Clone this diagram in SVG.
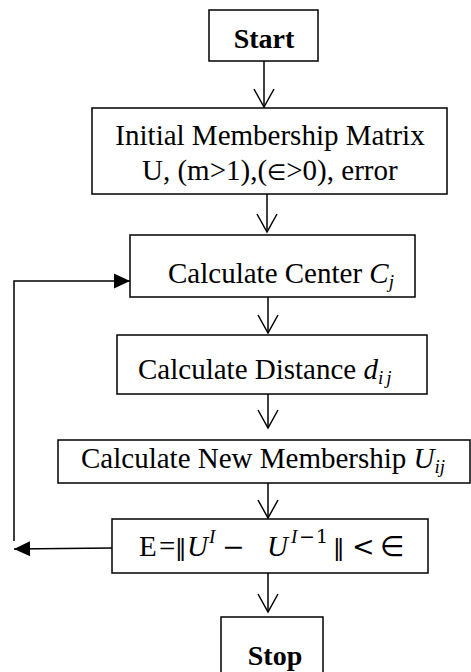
<svg xmlns="http://www.w3.org/2000/svg" width="471" height="672" viewBox="0 0 471 672">
<defs>
<marker id="open" markerUnits="userSpaceOnUse" markerWidth="24" markerHeight="24" viewBox="-20 -12 24 24" refX="0" refY="0" orient="auto">
<path d="M-18,-10 L0,0 L-18,10" fill="none" stroke="#000" stroke-width="1.5"/>
</marker>
<marker id="solid" markerUnits="userSpaceOnUse" markerWidth="20" markerHeight="20" viewBox="-18 -10 20 20" refX="0" refY="0" orient="auto">
<path d="M-16,-7.5 L0,0 L-16,7.5 Z" fill="#000"/>
</marker>
</defs>
<style>
.box{fill:#fff;stroke:#000;stroke-width:1.5}
.t{font-family:"Liberation Serif","Times New Roman",serif;font-size:29px;fill:#000}
.b{font-weight:bold;font-size:28px}
.m{font-style:italic}
.sub{font-size:19px}
.s{font-family:"DejaVu Sans",sans-serif;font-size:22px}
.ms{font-family:"DejaVu Serif",serif;font-size:27px}
.ms2{font-family:"DejaVu Serif",serif;font-size:19px}
.n{font-family:"DejaVu Sans",sans-serif;font-size:23px}
.e{font-family:"DejaVu Sans",sans-serif;font-size:28px}
.c{stroke:#000;stroke-width:1.5;fill:none}
</style>
<rect width="471" height="672" fill="#fff"/>
<g id="connectors">
<line class="c" x1="264" y1="61" x2="264" y2="107" marker-end="url(#open)"/>
<line class="c" x1="267" y1="194" x2="267" y2="232" marker-end="url(#open)"/>
<line class="c" x1="268" y1="297" x2="268" y2="333" marker-end="url(#open)"/>
<line class="c" x1="268" y1="394" x2="268" y2="428" marker-end="url(#open)"/>
<line class="c" x1="268" y1="483" x2="268" y2="518" marker-end="url(#open)"/>
<line class="c" x1="268" y1="573" x2="268" y2="612" marker-end="url(#open)"/>
<line class="c" x1="112" y1="548" x2="14" y2="549" marker-end="url(#solid)"/>
<polyline class="c" points="14,541 14,281 130,281" marker-end="url(#solid)"/>
</g>
<g id="start">
<rect class="box" x="209" y="10" width="109" height="51"/>
<text class="t b" x="264" y="48" text-anchor="middle">Start</text>
</g>
<g id="init">
<rect class="box" x="92" y="108" width="355" height="86"/>
<text class="t" x="270" y="145" text-anchor="middle">Initial Membership Matrix</text>
<text class="t" x="142" y="180">U, (m&gt;1),(<tspan class="s">∈</tspan>&gt;0), error</text>
</g>
<g id="center">
<rect class="box" x="130" y="235" width="285" height="62"/>
<text class="t" x="168" y="283">Calculate Center <tspan class="m">C</tspan><tspan class="m sub" dy="5">j</tspan></text>
</g>
<g id="distance">
<rect class="box" x="117" y="335" width="310" height="59"/>
<text class="t" x="138" y="379">Calculate Distance <tspan class="m">d</tspan><tspan class="m sub" dy="5" letter-spacing="3">ij</tspan></text>
</g>
<g id="membership">
<rect class="box" x="58" y="440" width="412" height="43"/>
<text class="t" x="81" y="468">Calculate New Membership <tspan class="m">U</tspan><tspan class="m sub" dy="5">ij</tspan></text>
</g>
<g id="error">
<rect class="box" x="112" y="519" width="316" height="54"/>
<text class="t" y="556"><tspan x="139">E</tspan><tspan x="159">=</tspan><tspan class="n" x="175">‖</tspan><tspan class="m" x="187">U</tspan><tspan class="m sub" x="209" y="543">I</tspan><tspan class="ms" x="222" y="556">−</tspan><tspan class="m" x="267">U</tspan><tspan class="m sub" x="291" y="543">I</tspan><tspan class="ms2" x="299">−</tspan><tspan class="ms2" x="316">1</tspan><tspan class="n" x="333" y="556">‖</tspan><tspan class="ms" x="352">&lt;</tspan><tspan class="e" x="380">∈</tspan></text>
</g>
<g id="stop">
<rect class="box" x="221" y="617" width="102" height="70"/>
<text class="t b" x="275" y="665" text-anchor="middle">Stop</text>
</g>
</svg>
